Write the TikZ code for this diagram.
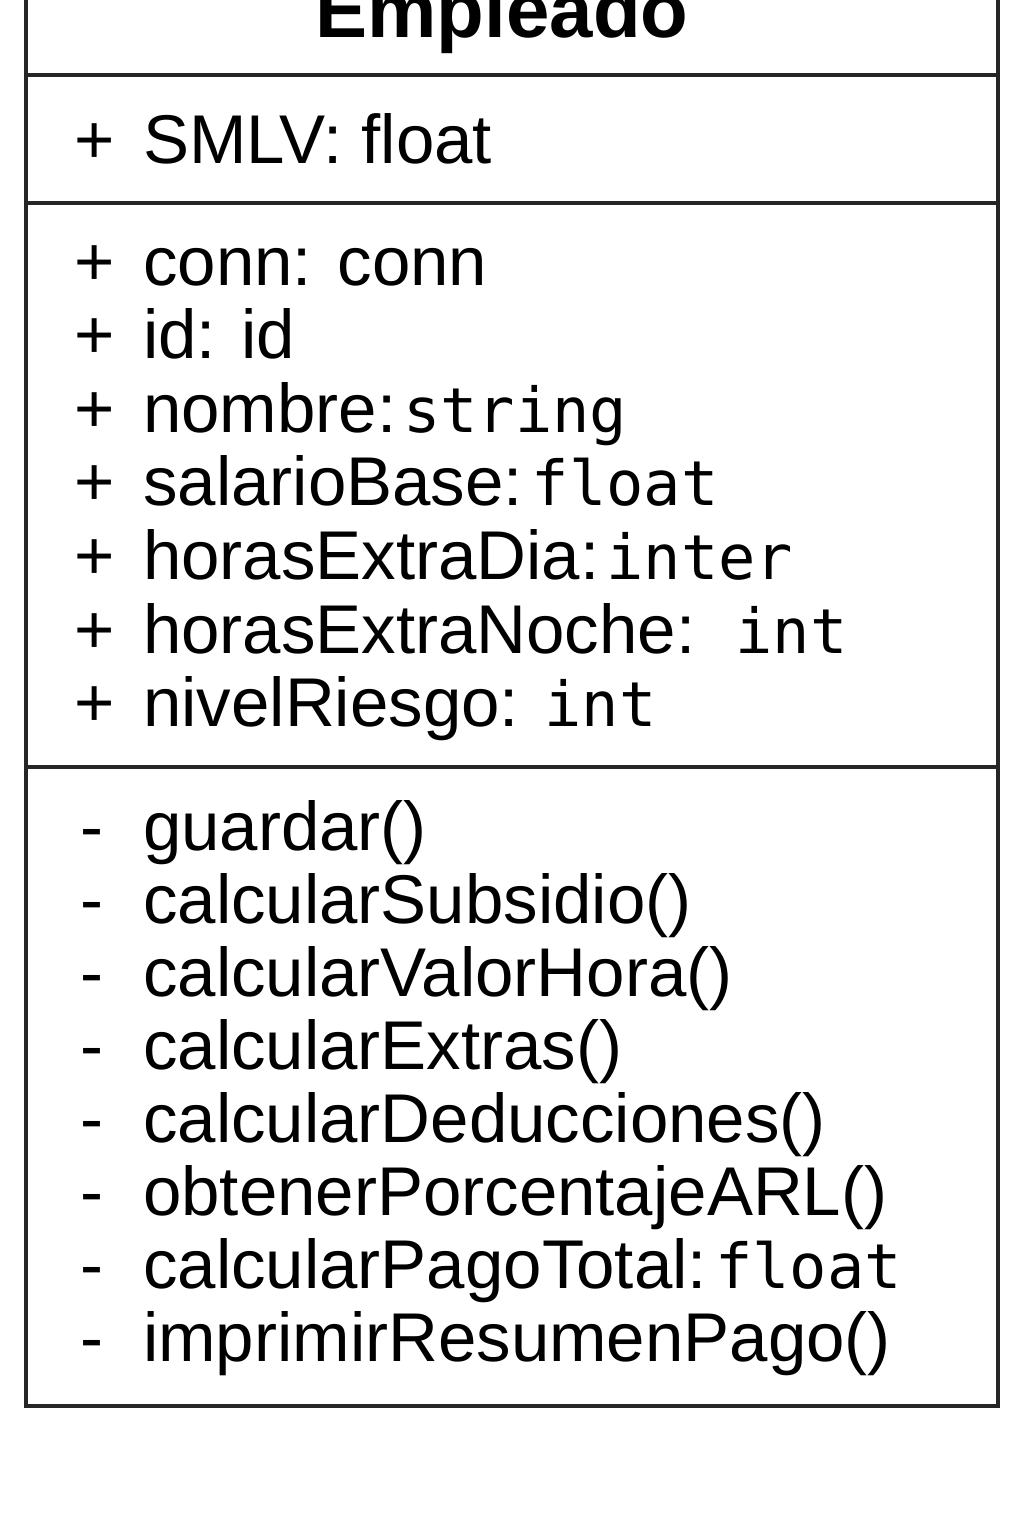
\documentclass[tikz,border=0pt]{standalone}
\usepackage{fontspec}
\setmainfont{Liberation Sans}
\newfontfamily\typefont{DejaVu Sans Mono}
\usetikzlibrary{positioning}

\newcommand{\ty}[1]{{\typefont\fontsize{62}{72}\selectfont #1}}

\begin{document}
\begin{tikzpicture}[x=1pt,y=-1pt,
  frame/.style={draw=black!85,line width=4pt},
  classname/.style={anchor=base,inner sep=0pt,font=\fontsize{78}{90}\selectfont\bfseries},
  vis/.style={anchor=base west,inner sep=0pt,font=\fontsize{69}{80}\selectfont},
  member/.style={anchor=base west,inner sep=0pt,font=\fontsize{69}{80}\selectfont}]
  \useasboundingbox (0,0) rectangle (1024,1536);
  \clip (0,0) rectangle (1024,1536);
  % class box and compartments
  \draw[frame] (26,-60) rectangle (998,1406);
  \draw[frame] (26,75.5) -- (998,75.5);
  \draw[frame] (26,203) -- (998,203);
  \draw[frame] (26,767) -- (998,767);
  % name
  \node[classname] (name) at (502,38) {Empleado};
  % static attribute
  \node[vis] (sv) at (74,163) {+};
  \node[member] (smlv) at (143,163) {SMLV: float};
  % attributes
  \foreach \i/\txt in {1/{conn: conn},2/{id: id},3/{nombre:\hspace{7pt}\ty{string}},
      4/{salarioBase:\hspace{9pt}\ty{float}},5/{horasExtraDia:\hspace{7pt}\ty{inter}},
      6/{horasExtraNoche:\hspace{40pt}\ty{int}},7/{nivelRiesgo: \ty{int}}}
  {
    \node[vis] (av\i) at (74,{285+73.6*(\i-1)}) {+};
    \node[member] (attr\i) at (143,{285+73.6*(\i-1)}) {\txt};
  }
  % methods
  \foreach \i/\txt in {1/{guardar()},2/{calcularSubsidio()},3/{calcularValorHora()},
      4/{calcularExtras()},5/{calcularDeducciones()},6/{obtenerPorcentajeARL()},
      7/{calcularPagoTotal:\hspace{8pt}\ty{float}},8/{imprimirResumenPago()}}
  {
    \node[vis] (mv\i) at (80,{850+73*(\i-1)}) {-};
    \node[member] (meth\i) at (143,{850+73*(\i-1)}) {\txt};
  }
\end{tikzpicture}
\end{document}
